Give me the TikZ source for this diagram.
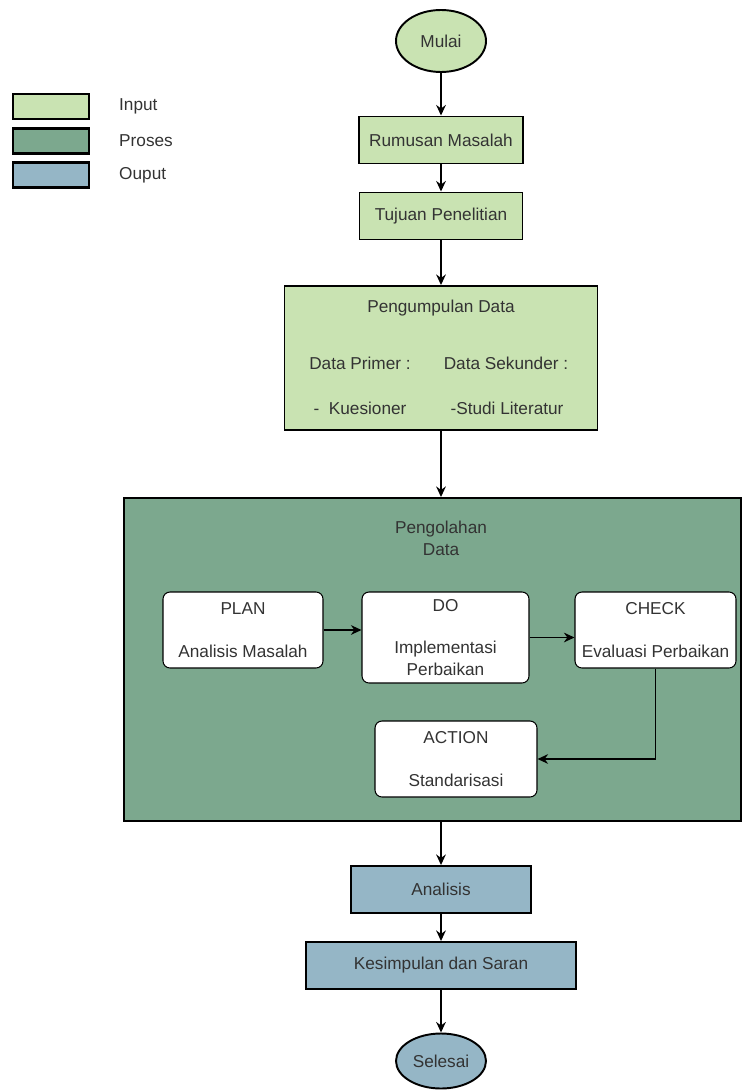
\documentclass[tikz,border=0pt]{standalone}
\usepackage{fontspec}
\setmainfont{Liberation Sans}
\usetikzlibrary{shapes.geometric,positioning,arrows.meta}

\definecolor{inputgreen}{RGB}{201,227,178}
\definecolor{prosesgreen}{RGB}{124,168,142}
\definecolor{outputblue}{RGB}{149,182,198}
\definecolor{textgray}{RGB}{51,51,51}

\tikzset{
  txt/.style={text=textgray, align=center},
  base/.style={txt, draw=black, line width=1.1pt, inner sep=0pt},
  inbox/.style={base, rectangle, fill=inputgreen, minimum height=0.94cm},
  outbox/.style={base, rectangle, fill=outputblue, minimum height=0.94cm},
  terminal/.style={base, ellipse, minimum width=1.8cm},
  pdca/.style={txt, draw=black, line width=0.6pt, fill=white, rounded corners=4pt, minimum height=1.52cm, inner sep=0pt},
  legendbox/.style={draw=black, line width=1.5pt, minimum width=1.52cm, minimum height=0.5cm},
  flow/.style={-{Stealth[length=6pt,width=5.5pt]}, line width=0.9pt},
}

\begin{document}
\begin{tikzpicture}[node distance=2cm, on grid, font=\fontsize{9.8}{12.2}\selectfont]
   \useasboundingbox (0,0) rectangle (14.9,-21.8);

   % keterangan
   \node[legendbox, fill=inputgreen] (leg_in) at (1.02,-2.13) {};
   \node[legendbox, fill=prosesgreen] (leg_pr) at (1.02,-2.82) {};
   \node[legendbox, fill=outputblue] (leg_out) at (1.02,-3.5) {};
   \node[txt, anchor=west] (leg_in_t) at (2.26,-2.13) {Input};
   \node[txt, anchor=west] (leg_pr_t) at (2.26,-2.82) {Proses};
   \node[txt, anchor=west] (leg_out_t) at (2.26,-3.5) {Ouput};

   % alur utama
   \node[terminal, fill=inputgreen, minimum height=1.24cm] (mulai) at (8.82,-0.82) {Mulai};
   \node[inbox, minimum width=3.28cm] (rumusan) [below=1.98 of mulai] {Rumusan Masalah};
   \node[inbox, minimum width=3.26cm] (tujuan) [below=1.52 of rumusan] {Tujuan Penelitian};
   \node[inbox, minimum width=6.26cm, minimum height=2.88cm] (kumpul) [below=2.84 of tujuan] {};
   \node[txt] (kumpul_judul) at (8.82,-6.16) {Pengumpulan Data};
   \node[txt] (primer) at (7.2,-7.26) {Data Primer :};
   \node[txt] (sekunder) at (10.12,-7.26) {Data Sekunder :};
   \node[txt] (kuesioner) at (7.2,-8.16) {-\ \ Kuesioner};
   \node[txt] (literatur) at (10.14,-8.16) {-Studi Literatur};

   \node[base, fill=prosesgreen, minimum width=12.34cm, minimum height=6.46cm] (olah) at (8.65,-13.19) {};
   \node[txt] (olah_judul) at (8.82,-10.77) {Pengolahan\\Data};

   % siklus PDCA
   \node[pdca, minimum width=3.2cm] (plan) at (4.86,-12.6) {PLAN\\[12pt]Analisis Masalah};
   \node[pdca, minimum width=3.34cm, minimum height=1.82cm] (do) at (8.91,-12.75) {DO\\[12pt]Implementasi\\Perbaikan};
   \node[pdca, minimum width=3.22cm] (check) at (13.11,-12.6) {CHECK\\[12pt]Evaluasi Perbaikan};
   \node[pdca, minimum width=3.24cm] (action) at (9.12,-15.18) {ACTION\\[12pt]Standarisasi};

   \node[outbox, minimum width=3.6cm] (analisis) [below=10.63 of kumpul] {Analisis};
   \node[outbox, minimum width=5.4cm] (kesimpulan) [below=1.52 of analisis] {Kesimpulan dan Saran};
   \node[terminal, fill=outputblue, minimum height=1.1cm] (selesai) [below=1.91 of kesimpulan] {Selesai};

   \draw[flow] (mulai) -- (rumusan);
   \draw[flow] (rumusan) -- (tujuan);
   \draw[flow] (tujuan) -- (kumpul);
   \draw[flow] (kumpul.south) -- (kumpul.south |- olah.north);
   \draw[flow] (plan.east) -- (plan.east -| do.west);
   \draw[flow] (do.east) -- (do.east -| check.west);
   \draw[flow] (check.south) |- (action.east);
   \draw[flow] (analisis.north |- olah.south) -- (analisis);
   \draw[flow] (analisis) -- (kesimpulan);
   \draw[flow] (kesimpulan) -- (selesai);
\end{tikzpicture}
\end{document}
